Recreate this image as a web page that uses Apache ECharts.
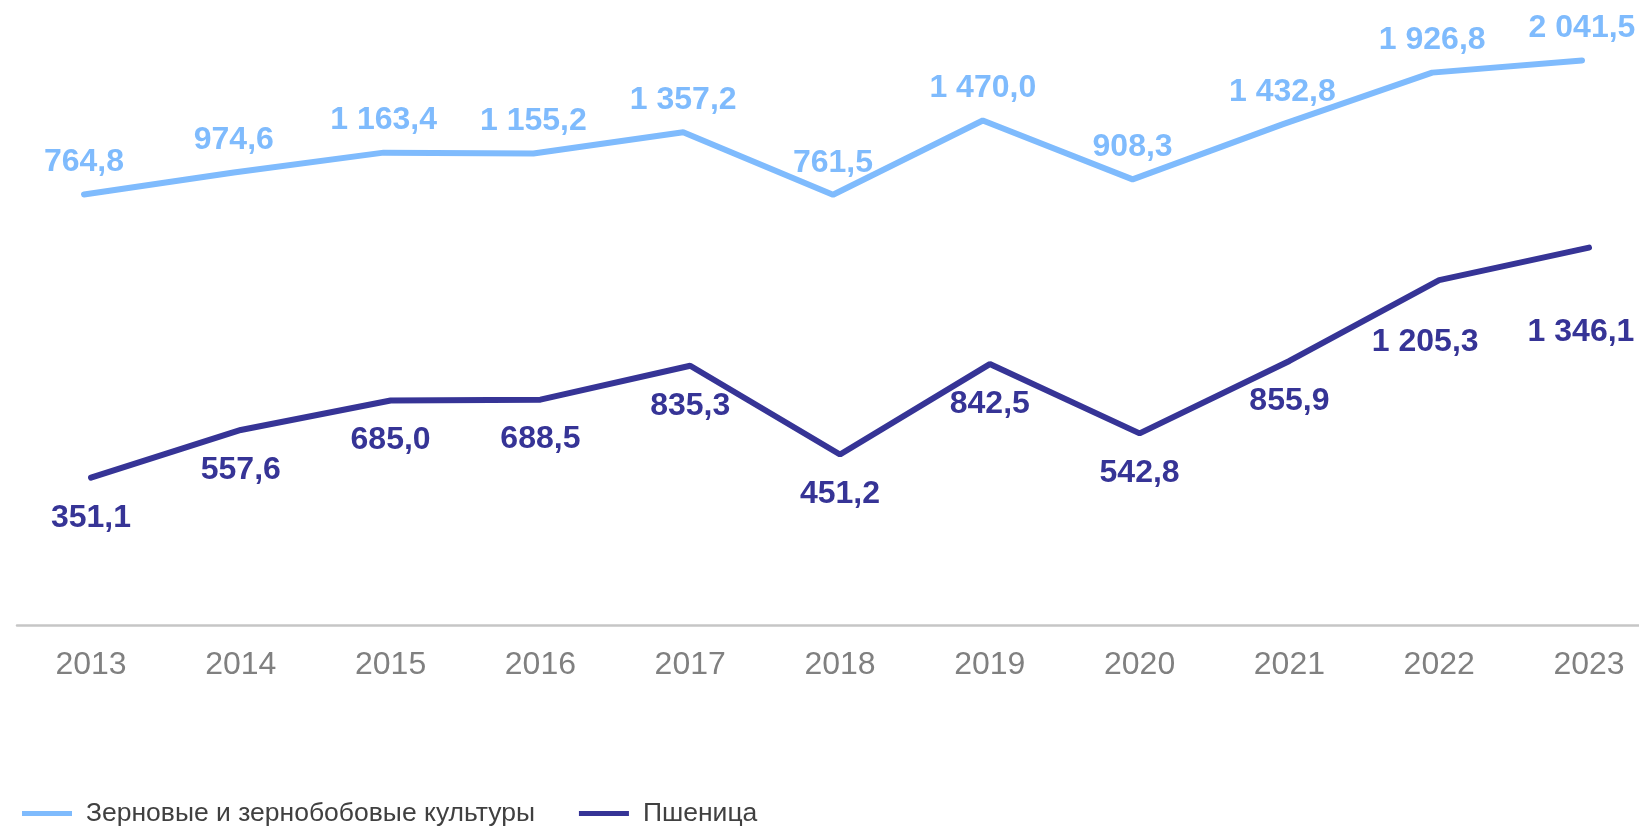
<!DOCTYPE html>
<html>
<head>
<meta charset="utf-8">
<title>Зерновые и пшеница</title>
<script src="https://cdn.jsdelivr.net/npm/echarts@6/dist/echarts.min.js"></script>
<style>
html, body {
	margin: 0;
	height: 100%;
	width: 100%;
	background: #fff;
}
#chart {
	width: 1639px;
	height: 827px;
}
</style>
</head>
<body>
<div id="chart"></div>
<script type="text/javascript">
// years on the x axis
var years = ['2013', '2014', '2015', '2016', '2017', '2018', '2019', '2020', '2021', '2022', '2023'];

// series values
var grainValues = [764.8, 974.6, 1163.4, 1155.2, 1357.2, 761.5, 1470.0, 908.3, 1432.8, 1926.8, 2041.5];
var wheatValues = [351.1, 557.6, 685.0, 688.5, 835.3, 451.2, 842.5, 542.8, 855.9, 1205.3, 1346.1];

var grainName = 'Зерновые и зернобобовые культуры';
var wheatName = 'Пшеница';

var lightBlue = '#7fbbfd';
var darkBlue = '#363496';

// 1 234,5 style numbers
function fmt(v) {
    var parts = v.toFixed(1).split('.');
    var intPart = parts[0].replace(/\B(?=(\d{3})+(?!\d))/g, ' ');
    return intPart + ',' + parts[1];
}

// some wheat labels were moved by hand in the original
var wheatLabelShift = {9: [-14, 22], 10: [-8, 45]};

var wheatData = wheatValues.map(function (v, i) {
    var item = {value: v};
    if (wheatLabelShift[i]) {
        item.label = {offset: wheatLabelShift[i]};
    }
    return item;
});

var chart = echarts.init(document.getElementById('chart'), null, {renderer: 'canvas'});

var option = {
    animation: false,
    textStyle: {fontFamily: 'Liberation Sans, Arial, sans-serif'},
    legend: {
        left: 17,
        top: 795,
        itemWidth: 50,
        itemHeight: 5,
        itemGap: 44,
        icon: 'rect',
        textStyle: {
            fontSize: 26.5,
            color: '#404040',
            padding: [0, 0, 0, 9]
        },
        data: [grainName, wheatName]
    },
    grid: [
        // wheat + year labels
        {left: 91, right: 50, top: 40, bottom: 202},
        // grain line, sits a bit to the left
        {left: 84, right: 57, top: 40, bottom: 202},
        // long baseline
        {left: 17, right: 0, top: 40, bottom: 202}
    ],
    xAxis: [{
        type: 'category',
        gridIndex: 0,
        data: years,
        boundaryGap: false,
        axisLine: {show: false},
        axisTick: {show: false},
        axisLabel: {
            margin: 24,
            fontSize: 32,
            color: '#808080'
        }
    }, {
        type: 'category',
        gridIndex: 1,
        data: years,
        boundaryGap: false,
        show: false
    }, {
        type: 'category',
        gridIndex: 2,
        data: years,
        axisLine: {show: true, lineStyle: {color: '#c6c6c6', width: 2.5}},
        axisTick: {show: false},
        axisLabel: {show: false}
    }],
    yAxis: [{
        type: 'value',
        gridIndex: 0,
        min: -286,
        max: 2244,
        show: false
    }, {
        type: 'value',
        gridIndex: 1,
        min: -3343,
        max: 2238,
        show: false
    }, {
        type: 'value',
        gridIndex: 2,
        show: false
    }],
    series: [{
        name: grainName,
        type: 'line',
        xAxisIndex: 1,
        yAxisIndex: 1,
        data: grainValues,
        symbol: 'circle',
        symbolSize: 2,
        color: lightBlue,
        lineStyle: {width: 6, color: lightBlue, cap: 'round'},
        label: {
            show: true,
            position: 'top',
            distance: 15,
            fontSize: 32,
            fontWeight: 'bold',
            color: lightBlue,
            formatter: function (p) { return fmt(p.value); }
        }
    }, {
        name: wheatName,
        type: 'line',
        xAxisIndex: 0,
        yAxisIndex: 0,
        data: wheatData,
        symbol: 'circle',
        symbolSize: 2,
        color: darkBlue,
        lineStyle: {width: 6, color: darkBlue, cap: 'round'},
        label: {
            show: true,
            position: 'bottom',
            distance: 23,
            fontSize: 32,
            fontWeight: 'bold',
            color: darkBlue,
            formatter: function (p) { return fmt(p.value); }
        }
    }]
};

chart.setOption(option);
</script>
</body>
</html>
